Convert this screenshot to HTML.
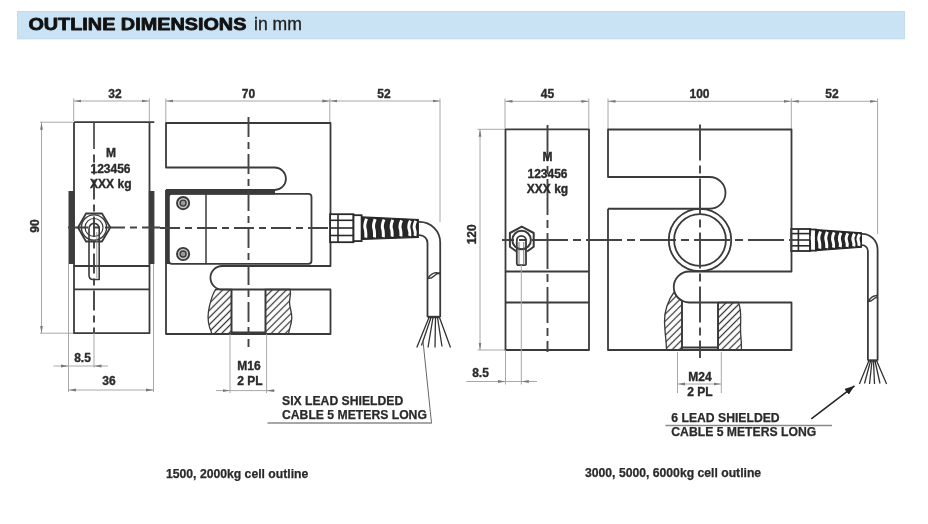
<!DOCTYPE html>
<html><head><meta charset="utf-8">
<style>
html,body{margin:0;padding:0;background:#fff;width:928px;height:524px;overflow:hidden}
svg{display:block;filter:blur(0.4px)}
text{font-family:"Liberation Sans",sans-serif}
.o{fill:none;stroke:#3a3a3a;stroke-width:1.8;stroke-linejoin:round}
.t{fill:none;stroke:#3a3a3a;stroke-width:1.2}
.d{fill:none;stroke:#a8a8a8;stroke-width:1}
.c{fill:none;stroke:#444;stroke-width:1.9;stroke-dasharray:20 5 7 5}
.c2{fill:none;stroke:#444;stroke-width:1.9;stroke-dasharray:36 5 8 5}
.h{fill:none;stroke:#555;stroke-width:0.9}
.lb{font-weight:bold;font-size:12px;fill:#2a2a2a;text-anchor:middle;stroke:#2a2a2a;stroke-width:0.35}
.ls{font-weight:bold;font-size:12.2px;fill:#2a2a2a;stroke:#2a2a2a;stroke-width:0.25}
.ar{fill:#8a8a8a}
</style></head>
<body>
<svg width="928" height="524" viewBox="0 0 928 524">
<defs>
<marker id="a" viewBox="0 0 7.5 4" refX="7.5" refY="2" markerWidth="7.5" markerHeight="4" orient="auto-start-reverse" markerUnits="userSpaceOnUse">
<path d="M0,0.6 L7.5,2 L0,3.4 Z" fill="#7a7a7a"/>
</marker>
<marker id="ak" viewBox="0 0 10 8" refX="10" refY="4" markerWidth="10" markerHeight="8" orient="auto" markerUnits="userSpaceOnUse">
<path d="M0,0.5 L10,4 L0,7.5 Z" fill="#222"/>
</marker>
<pattern id="hatch" patternUnits="userSpaceOnUse" width="5" height="5" patternTransform="rotate(-45)">
<line x1="0" y1="2.5" x2="5" y2="2.5" stroke="#333" stroke-width="1.25"/>
</pattern>
</defs>

<!-- header -->
<rect x="17.6" y="11.5" width="886.9" height="27.4" fill="#cae3f4" stroke="#bdd5e6" stroke-width="0.8"/>
<text x="28.4" y="30.2" textLength="218" lengthAdjust="spacingAndGlyphs" style="font-weight:bold;font-size:17.2px;fill:#111;stroke:#111;stroke-width:0.8;stroke-linejoin:round" id="ttl">OUTLINE DIMENSIONS</text>
<text x="254" y="30" style="font-size:17.6px;fill:#222;stroke:#222;stroke-width:0.35" id="inmm">in mm</text>

<!-- ================= LEFT DRAWING ================= -->
<g id="L">
<!-- dimensions top -->
<path class="d" d="M73.7,98.5V121 M149.3,98.5V121 M165.8,98.5V122 M329.8,98.5V122 M440,98.5V222"/>
<line class="d" x1="73.7" y1="101" x2="149.3" y2="101" marker-start="url(#a)" marker-end="url(#a)"/>
<line class="d" x1="165.8" y1="101" x2="329.8" y2="101" marker-start="url(#a)" marker-end="url(#a)"/>
<line class="d" x1="329.8" y1="101" x2="440" y2="101" marker-start="url(#a)" marker-end="url(#a)"/>
<text class="lb" x="115" y="98.3">32</text>
<text class="lb" x="248.5" y="98.3">70</text>
<text class="lb" x="384" y="98.3">52</text>

<!-- 90 dim -->
<path class="d" d="M40,122.2H73 M40,333.2H73"/>
<line class="d" x1="41.5" y1="122.2" x2="41.5" y2="333.2" marker-start="url(#a)" marker-end="url(#a)"/>
<text class="lb" transform="translate(39.2,226) rotate(-90)" x="0" y="0">90</text>

<!-- side view -->
<rect x="68.5" y="191" width="6" height="73" fill="#3d3d3d"/>
<rect x="148.8" y="191" width="5.6" height="73" fill="#3d3d3d"/>
<path class="o" d="M74,122.2 H154.3 M74,122.2 V333.2 H149.5 V122.2 M74,266 H149.5 M74,289.3 H149.5"/>
<path class="d" d="M68.5,264 V392 M153.5,264 V392 M94,333 V367.5"/>
<!-- centerline -->
<path class="o" style="stroke-width:1.6" d="M94,122.2 V149"/>
<path class="c" style="stroke-dashoffset:-25" d="M94,154.5 V333"/>
<path class="c" d="M68,227.5 H160"/>
<text class="lb" x="111" y="157.2">M</text>
<text class="lb" x="110.5" y="173.3">123456</text>
<text class="lb" x="110.8" y="188.3">XXX kg</text>
<!-- nut -->
<polygon class="o" fill="#fff" points="78,227.5 86,213.5 102,213.5 110.3,227.5 102,241.5 86,241.5"/>
<circle class="t" cx="94" cy="227.5" r="12.6" style="stroke-width:1.4"/>
<circle class="t" cx="94" cy="227.5" r="9"/>
<path class="o" fill="#fff" style="stroke-width:1.6" d="M89,228.5 A5,5 0 0 1 99.2,228.5 V279.5 H93 Q89,279.5 89,275 Z"/>
<path class="t" style="stroke-width:0.8;stroke:#888" d="M96.8,232 V278"/>
<!-- 8.5 / 36 dims -->
<line class="d" x1="53.5" y1="366" x2="68.5" y2="366" marker-end="url(#a)"/>
<line class="d" x1="108" y1="366" x2="94" y2="366" marker-end="url(#a)"/>
<line class="d" x1="68.5" y1="366" x2="94" y2="366"/>
<text class="lb" x="82.5" y="361.8">8.5</text>
<line class="d" x1="68.5" y1="390" x2="153.5" y2="390" marker-start="url(#a)" marker-end="url(#a)"/>
<text class="lb" x="109" y="384.6">36</text>

<!-- front view -->
<path class="o" d="M166,190 V334 H330.5 V289.5 H222.2 A11.75,11.75 0 0 1 222.2,266 H330.5 V123 H166 V167.5 H274.7 A11.25,11.25 0 0 1 274.7,190 H166"/>
<!-- plate -->
<path fill="#3a3a3a" d="M165.5,189.7 H275 V194.4 H169.3 V264 H165.5 Z"/>
<rect class="o" x="168.8" y="193.8" width="142.7" height="70" rx="3"/>
<path class="o" style="stroke-width:1.5" d="M206,194 V264"/>
<g class="t"><circle cx="183.1" cy="203.1" r="6.1" style="stroke-width:1.9;fill:#c8c8c8"/><circle cx="183.1" cy="203.1" r="3" style="stroke-width:1.4;fill:#9a9a9a"/>
<circle cx="183.1" cy="254" r="6.1" style="stroke-width:1.9;fill:#c8c8c8"/><circle cx="183.1" cy="254" r="3" style="stroke-width:1.4;fill:#9a9a9a"/></g>
<!-- hatch -->
<path fill="url(#hatch)" stroke="#3a3a3a" stroke-width="1.3" d="M215.5,289.5 C212,295 211,300 209.5,306 C207.5,314 208,322 209.5,327 C210.5,330 211.5,332 211.8,334 H231.5 V289.5 Z"/>
<path fill="url(#hatch)" stroke="#3a3a3a" stroke-width="1.3" d="M265.5,289.5 H290 C291.5,294 289.5,298 289.5,302 C289.5,308 292,312 291.8,318 C291.5,325 289,329 288.5,334 H265.5 Z"/>
<path class="o" d="M231.5,289.5 V334 M265.5,289.5 V334 M231.5,332.5 H265.5"/>
<path class="d" d="M230,334 V393 M266.6,334 V393"/>
<path class="c" d="M248.5,117 V347"/>
<path class="c" d="M160,228 H345"/>
<line class="d" x1="216" y1="390.6" x2="230" y2="390.6" marker-end="url(#a)"/>
<line class="d" x1="275" y1="390.6" x2="266.6" y2="390.6" marker-end="url(#a)"/>
<line class="d" x1="230" y1="390.6" x2="266.6" y2="390.6"/>
<text class="lb" x="249" y="369.9">M16</text>
<text class="lb" x="250" y="385.4">2 PL</text>
</g>

<g id="connL">
<rect x="330.1" y="214.2" width="23.4" height="28.0" fill="#fff" stroke="#2a2a2a" stroke-width="1.8"/>
<line x1="330.1" y1="220.3" x2="353.5" y2="220.3" stroke="#2a2a2a" stroke-width="1.6"/>
<line x1="330.1" y1="228" x2="353.5" y2="228" stroke="#2a2a2a" stroke-width="1.6"/>
<line x1="330.1" y1="235.5" x2="353.5" y2="235.5" stroke="#2a2a2a" stroke-width="1.6"/>
<line x1="338" y1="214.2" x2="338" y2="242.2" stroke="#2a2a2a" stroke-width="1.6"/>
<rect x="353.5" y="215.2" width="8.1" height="25.9" fill="#fff" stroke="#2a2a2a" stroke-width="1.8"/>
<path d="M361.6,216.9 L418.3,219.5 L418.3,237.3 L361.6,239.5 Z" fill="#262626" stroke="#262626" stroke-width="1.2"/>
<path d="M366.5,218.7 C364.3,224.4 364.9,228.2 365.3,229.2 S366.1,236.2 365.7,237.7" fill="none" stroke="#fff" stroke-width="3.0"/>
<path d="M375.2,219.1 C373.0,224.6 373.6,228.2 374.0,229.2 S374.8,235.9 374.4,237.4" fill="none" stroke="#fff" stroke-width="3.0"/>
<path d="M384.0,219.5 C381.8,224.8 382.4,228.3 382.8,229.3 S383.6,235.6 383.2,237.1" fill="none" stroke="#fff" stroke-width="3.0"/>
<path d="M392.8,219.9 C390.6,224.9 391.2,228.3 391.6,229.3 S392.4,235.2 392.0,236.7" fill="none" stroke="#fff" stroke-width="3.0"/>
<path d="M401.6,220.3 C399.4,225.1 400.0,228.3 400.4,229.3 S401.2,234.9 400.8,236.4" fill="none" stroke="#fff" stroke-width="3.0"/>
<path d="M410.4,220.7 C408.2,225.3 408.8,228.4 409.2,229.4 S410.0,234.5 409.6,236.0" fill="none" stroke="#fff" stroke-width="3.0"/>
<path d="M415.8,220.9 C413.6,225.4 414.2,228.4 414.6,229.4 S415.4,234.3 415.0,235.8" fill="none" stroke="#fff" stroke-width="3.0"/>
<path class="o" d="M418.3,221.8 H419.5 A20.7,20.7 0 0 1 440.2,242.5 V317 M418.3,235.1 H419.5 A8,8 0 0 1 427.5,243.1 V317"/>
<path class="o" style="stroke-width:2.4" d="M427.5,317 H440.2"/>
<path class="t" style="stroke-width:1.4" d="M427.5,279 C430,275 433,272.5 436.5,272.8 C438.5,273 439.5,273.5 440.2,272.3 M427.5,277.8 C429.5,279 432,278 434,276 C436,274 438.5,273 440.2,273.8"/>
<g class="t" style="stroke-width:1.3;stroke:#333">
<path d="M429,317.5 L416.8,347.5 M431,317.5 L421.5,345.5 M433,317.5 L428,347.5 M435.5,317.5 L435,347.5 M437.5,317.5 L442,346.5 M439.5,317.5 L450.5,347.5"/>
</g>
</g>
<g id="connR">
<rect x="791.2" y="229" width="19.0" height="22.0" fill="#fff" stroke="#2a2a2a" stroke-width="1.8"/>
<line x1="791.2" y1="233.6" x2="810.2" y2="233.6" stroke="#2a2a2a" stroke-width="1.6"/>
<line x1="791.2" y1="240" x2="810.2" y2="240" stroke="#2a2a2a" stroke-width="1.6"/>
<line x1="791.2" y1="245.8" x2="810.2" y2="245.8" stroke="#2a2a2a" stroke-width="1.6"/>
<line x1="798.4" y1="229" x2="798.4" y2="251" stroke="#2a2a2a" stroke-width="1.6"/>
<rect x="810.2" y="229.5" width="5.6" height="21.1" fill="#fff" stroke="#2a2a2a" stroke-width="1.8"/>
<path d="M815.8,229.6 L861.4,232.8 L861.4,247.3 L815.8,250.6 Z" fill="#262626" stroke="#262626" stroke-width="1.2"/>
<path d="M813.8,231.0 C811.6,236.5 812.2,240.1 812.6,241.1 S813.4,247.7 813.0,249.2" fill="none" stroke="#fff" stroke-width="3.0"/>
<path d="M820.5,231.5 C818.3,236.6 818.9,240.1 819.3,241.1 S820.1,247.2 819.7,248.7" fill="none" stroke="#fff" stroke-width="3.0"/>
<path d="M827.4,231.9 C825.2,236.8 825.8,240.1 826.2,241.1 S827.0,246.7 826.6,248.2" fill="none" stroke="#fff" stroke-width="3.0"/>
<path d="M834.2,232.4 C832.0,237.0 832.6,240.1 833.0,241.1 S833.8,246.2 833.4,247.7" fill="none" stroke="#fff" stroke-width="3.0"/>
<path d="M841.0,232.9 C838.8,237.2 839.4,240.1 839.8,241.1 S840.6,245.7 840.2,247.2" fill="none" stroke="#fff" stroke-width="3.0"/>
<path d="M847.8,233.4 C845.6,237.4 846.2,240.1 846.6,241.1 S847.4,245.3 847.0,246.8" fill="none" stroke="#fff" stroke-width="3.0"/>
<path d="M854.5,233.8 C852.3,237.6 852.9,240.1 853.3,241.1 S854.1,244.8 853.7,246.3" fill="none" stroke="#fff" stroke-width="3.0"/>
<path d="M859.6,234.2 C857.4,237.7 858.0,240.1 858.4,241.1 S859.2,244.4 858.8,245.9" fill="none" stroke="#fff" stroke-width="3.0"/>
<path class="o" d="M861.4,233.9 H862 A15.6,15.6 0 0 1 877.6,249.5 V360.5 M861.4,245.1 H862 A5.9,5.9 0 0 1 867.9,251 V360.5"/>
<path class="o" style="stroke-width:2.4" d="M867.9,360.5 H877.6"/>
<path class="t" style="stroke-width:1.4" d="M867.9,302 C870,298.5 872.5,296 875.5,295.8 C876.5,295.7 877.2,295.5 877.6,295 M867.9,300.8 C869.5,301.8 871.5,301 873,299.5 C874.5,298 876,297 877.6,297.2"/>
<g class="t" style="stroke-width:1.3;stroke:#333">
<path d="M868.8,361 L859.4,384 M870.5,361 L864.5,383.5 M872,361 L869.5,384 M873.5,361 L874.5,384 M875,361 L880,383.5 M876.7,361 L886.6,384"/>
</g>
</g>
<g id="R">
<!-- top dims -->
<path class="d" d="M505,98.5V128.5 M588.8,98.5V128.5 M608,98.5V129 M791.3,98.5V129 M877.6,98.5V234"/>
<line class="d" x1="505" y1="101.3" x2="588.8" y2="101.3" marker-start="url(#a)" marker-end="url(#a)"/>
<line class="d" x1="608" y1="101.3" x2="791.3" y2="101.3" marker-start="url(#a)" marker-end="url(#a)"/>
<line class="d" x1="791.3" y1="101.3" x2="877.6" y2="101.3" marker-start="url(#a)" marker-end="url(#a)"/>
<text class="lb" x="547.5" y="97.8">45</text>
<text class="lb" x="699.5" y="97.8">100</text>
<text class="lb" x="832" y="97.8">52</text>
<!-- 120 dim -->
<path class="d" d="M477.5,129.3H505 M477.5,350H505"/>
<line class="d" x1="480" y1="129.3" x2="480" y2="350" marker-start="url(#a)" marker-end="url(#a)"/>
<text class="lb" transform="translate(475.7,234.3) rotate(-90)" x="0" y="0">120</text>
<!-- side view -->
<rect class="o" x="505.5" y="129.3" width="83.5" height="220.7"/>
<path class="o" d="M505.5,271.5 H589 M505.5,302.5 H589"/>
<path class="c2" d="M547.5,125 V352"/>
<path class="c2" style="stroke-dashoffset:-30" d="M502,240 H790"/>
<text class="lb" x="547.5" y="161.4">M</text>
<text class="lb" x="547.5" y="178.4">123456</text>
<text class="lb" x="547.5" y="192.7">XXX kg</text>
<!-- nut pointy-top -->
<path class="o" fill="#fff" style="stroke-width:2" d="M516.5,251.5 L509.9,246.7 V233 L521.8,226.6 L533.7,233 V246.7 L527,251.5"/>
<circle class="o" cx="521.6" cy="240" r="9.3" style="stroke-width:2"/>
<path class="o" fill="#fff" d="M516.8,240.5 A4.6,4.6 0 0 1 526,240.5 V264.3 Q526,265.2 525,265.2 H518.5 Q516.8,265.2 516.8,263 Z"/>
<path class="t" style="stroke-width:0.9;stroke:#666" d="M519,242 V264 M523.8,242 V264"/>
<!-- 8.5 dim -->
<path class="d" d="M505.5,350 V384.5 M521.3,265 V384.5"/>
<line class="d" x1="466.3" y1="381.5" x2="505.5" y2="381.5" marker-end="url(#a)"/>
<line class="d" x1="537" y1="381.5" x2="521.3" y2="381.5" marker-end="url(#a)"/>
<line class="d" x1="505.5" y1="381.5" x2="521.3" y2="381.5"/>
<text class="lb" x="480.5" y="377.4">8.5</text>

<!-- front view -->
<path class="o" d="M608,208.75 V350 H791.5 V302.5 H689.25 A15.5,15.5 0 0 1 689.25,271.5 H791.5 V129.5 H608 V177 H709.6 A15.875,15.875 0 0 1 709.6,208.75 H608"/>
<circle class="o" cx="700" cy="240" r="31.2" fill="#fff"/>
<circle class="o" cx="700" cy="240" r="25.9"/>
<!-- hatch -->
<path fill="url(#hatch)" stroke="#3a3a3a" stroke-width="1.3" d="M674.2,292 C668,300 664,312 664.5,322 C665,335 666.5,343 666.5,350 H682 V300.7 A15.5,15.5 0 0 1 674.2,292 Z"/>
<path fill="url(#hatch)" stroke="#3a3a3a" stroke-width="1.3" d="M718,302.5 H738.5 C742,312 740.5,320 740.5,328 C740.5,338 742,344 741.3,350 H718 Z"/>
<path class="o" d="M682,300.7 V350 M718,302.5 V350 M682,347.5 H718"/>
<path class="c2" d="M700,124.5 V358"/>
<path class="d" d="M677.5,352 V393 M721.3,352 V393"/>
<line class="d" x1="700" y1="384" x2="677.5" y2="384" marker-end="url(#a)"/>
<line class="d" x1="700" y1="384" x2="721.3" y2="384" marker-end="url(#a)"/>
<text class="lb" x="700" y="380.6">M24</text>
<text class="lb" x="700" y="395.6">2 PL</text>
</g>
<!-- labels -->
<line class="d" style="stroke:#666" x1="423" y1="341" x2="431.5" y2="423"/>
<line class="d" style="stroke:#8a8a8a;stroke-width:1.4" x1="267.5" y1="423" x2="432" y2="423"/>
<text class="ls" x="282" y="404.9">SIX LEAD SHIELDED</text>
<text class="ls" x="282" y="419.2">CABLE 5 METERS LONG</text>
<line x1="811.3" y1="418.8" x2="854.5" y2="385.8" stroke="#222" stroke-width="1.5" marker-end="url(#ak)"/>
<line class="d" style="stroke:#8a8a8a;stroke-width:1.4" x1="665.5" y1="425.5" x2="832" y2="425.5"/>
<text class="ls" x="671.3" y="421.6">6 LEAD SHIELDED</text>
<text class="ls" x="671.3" y="436.2">CABLE 5 METERS LONG</text>
<text class="ls" x="166" y="477.5" >1500, 2000kg cell outline</text>
<text class="ls" x="585" y="477.3" >3000, 5000, 6000kg cell outline</text>

</svg>
</body></html>
